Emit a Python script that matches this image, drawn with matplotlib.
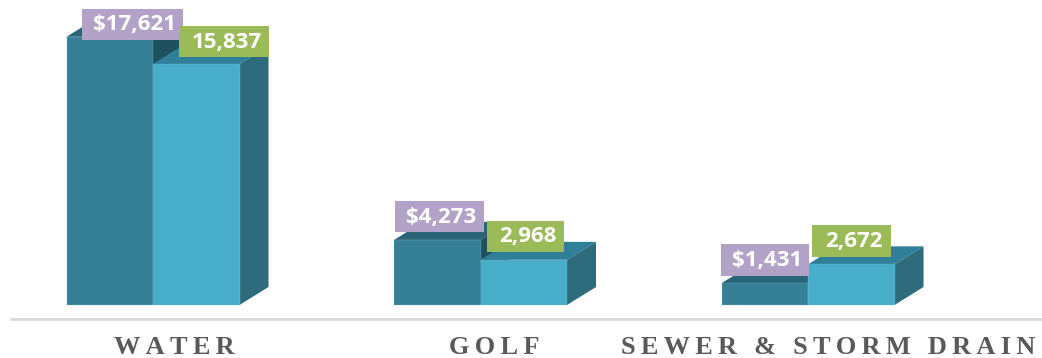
import matplotlib
matplotlib.use("Agg")
import matplotlib.pyplot as plt
from matplotlib.patches import Polygon, Rectangle

categories = ["WATER", "GOLF", "SEWER & STORM DRAIN"]
dollars = [17621, 4273, 1431]
counts = [15837, 2968, 2672]

# scale: pixels per unit on each axis
PX_X = 327.5
PX_Y = 0.01522
BAR_W = 86.5 / PX_X
DEPTH_X = 29 / PX_X
DEPTH_Y = 18 / PX_Y


def px_w(p):
    return p / PX_X


def px_h(p):
    return p / PX_Y


def bar3d(ax, left, value, front, top, side):
    right = left + BAR_W
    ax.add_patch(Polygon([(left, value), (right, value),
                          (right + DEPTH_X, value + DEPTH_Y), (left + DEPTH_X, value + DEPTH_Y)],
                         facecolor=top, edgecolor="none"))
    ax.add_patch(Polygon([(right, 0), (right + DEPTH_X, DEPTH_Y),
                          (right + DEPTH_X, value + DEPTH_Y), (right, value)],
                         facecolor=side, edgecolor="none"))
    ax.add_patch(Rectangle((left, 0), BAR_W, value, facecolor=front, edgecolor="#7FC4D8", lw=0.2))


def tag(ax, x0, x1, bottom, h, text, color):
    ax.add_patch(Rectangle((x0, bottom), x1 - x0, h, facecolor=color, edgecolor="none", zorder=5))
    ax.text((x0 + x1) / 2 + px_w(2.5), bottom + h * 0.48, text, color="white", fontsize=16,
            fontweight="bold", family="Open Sans", ha="center", va="center", zorder=6)


fig = plt.figure(figsize=(10.42, 3.58), dpi=100)
ax = fig.add_axes([0, 0, 1, 1])
ax.set_xlim(-153 / PX_X, (1042 - 153) / PX_X)
ax.set_ylim(-53 / PX_Y, 305 / PX_Y)
ax.axis("off")

for i in range(len(categories)):
    bar3d(ax, i - BAR_W, dollars[i], "#357F97", "#2A6477", "#1F5060")
    bar3d(ax, i, counts[i], "#47ADC9", "#2F7F98", "#2E6B7C")

# value tags; the first one sits lower relative to its bar, near the top edge
dollar_tags = [(-71, 30, -3, 31), (-86, 3, 8, 31), (-87, 1, 7, 32)]
count_tags = [(26, 116, 7, 31), (6, 83, 8, 31), (4, 83, 7, 32)]
for i in range(len(categories)):
    x0, x1, gap, h = dollar_tags[i]
    tag(ax, i + px_w(x0), i + px_w(x1), dollars[i] + px_h(gap), px_h(h), f"${dollars[i]:,}", "#B3A2C7")
    x0, x1, gap, h = count_tags[i]
    tag(ax, i + px_w(x0), i + px_w(x1), counts[i] + px_h(gap), px_h(h), f"{counts[i]:,}", "#9BBB59")

# baseline rule
ax.plot([-143 / PX_X, 889 / PX_X], [px_h(-14), px_h(-14)], color="#D9D9D9", lw=2, solid_capstyle="butt")

# spaced category labels
label_x = [174, 494, 828.5]
for i, name in enumerate(categories):
    spaced = "\u2009".join(name)
    ax.text((label_x[i] - 153) / PX_X, px_h(-48.5), spaced, color="#595959", fontsize=19,
            fontweight="bold", family="Liberation Serif", ha="center", va="baseline")

fig.savefig("out.png", dpi=100, facecolor="white")
